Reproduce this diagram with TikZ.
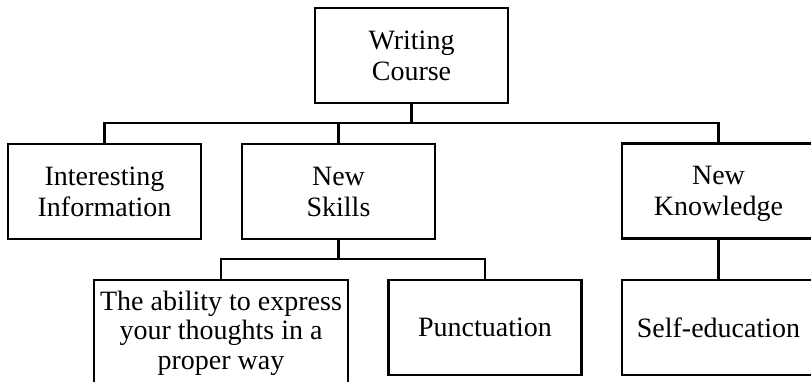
\documentclass[tikz,border=0pt]{standalone}
\usepackage{fontspec}
\setmainfont{Liberation Serif}
\usetikzlibrary{calc}
\begin{document}
\begin{tikzpicture}[x=1pt,y=-1pt,
  box/.style={draw=black, line width=2.6pt, fill=white, inner sep=0pt,
    minimum width=193pt, minimum height=95pt, align=center,
    font=\fontsize{28}{31}\selectfont},
  link/.style={draw=black, line width=2.2pt}]
\useasboundingbox (0,0) rectangle (811,382);
\fill[white] (0,0) rectangle (811,382);
\clip (0,0) rectangle (811,382);
\node[box] (root) at (411.5,55.5) {Writing\\Course};
\node[box] (int) at (104.5,191.5) {Interesting\\Information};
\node[box] (ns) at (338.5,191.5) {New\\Skills};
\node[box, text depth=0pt] (nk) at (718.5,191) {New\\Knowledge};
\node[box, minimum width=254pt, minimum height=106pt,
  font=\fontsize{28}{29.5}\selectfont] (abl) at (221,333)
  {The ability to express\\your thoughts in a\\proper way};
\node[box] (pun) at (485,327.5) {Punctuation};
\node[box] (self) at (718.5,327.5) {Self-education};
\coordinate (j1) at (411.5,123);
\coordinate (j2) at (338.5,259);
\draw[link] (root.south) -- (j1);
\draw[link] (int.north) -- (int.north |- j1) -- (nk.north |- j1) -- (nk.north);
\draw[link] (ns.north) -- (ns.north |- j1);
\draw[link] (ns.south) -- (j2);
\draw[link] (abl.north) -- (abl.north |- j2) -- (pun.north |- j2) -- (pun.north);
\draw[link] (nk.south) -- (self.north);
\end{tikzpicture}
\end{document}
